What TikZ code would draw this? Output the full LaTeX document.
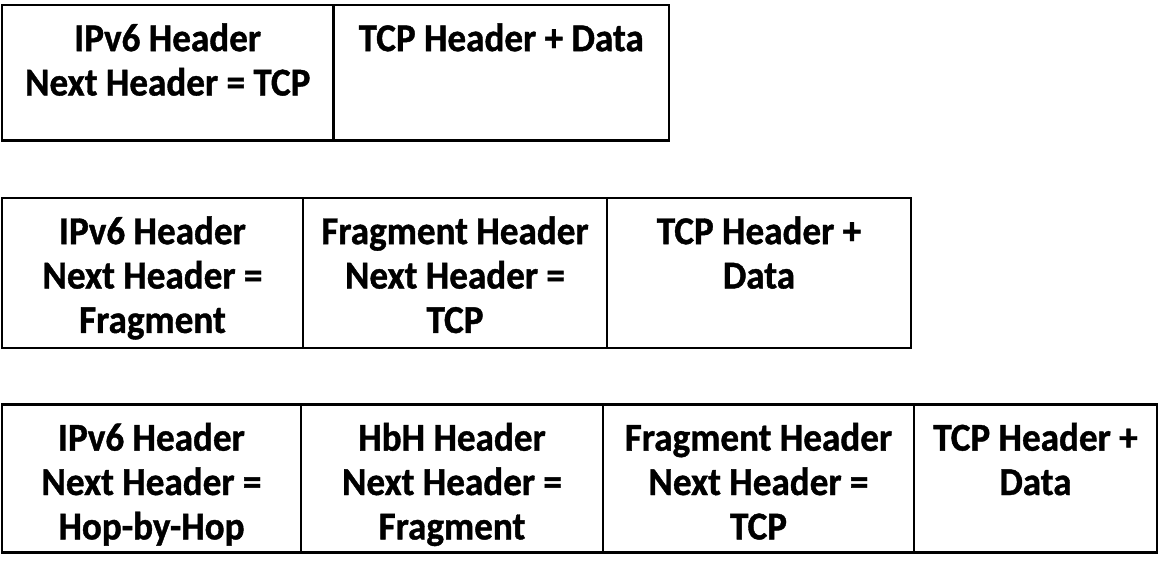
\documentclass[tikz,border=0pt]{standalone}
\usepackage{fontspec}
\setmainfont{Carlito}[FakeStretch=0.94, BoldFeatures={FakeBold=1}]

\begin{document}
\begin{tikzpicture}[x=0.5pt, y=-0.5pt,
    hdr/.style={draw, line width=1.35pt, inner sep=0pt, outer sep=0pt, anchor=north west},
    txt/.style={anchor=north, align=center, inner sep=0pt, yshift=-9pt,
        font=\fontsize{19.75}{22.2}\selectfont\bfseries}]
    \useasboundingbox (0,0) rectangle (1160,571);

    % plain packet
    \node[hdr, minimum width=165.75pt, minimum height=67.75pt] (ipA) at (2,5) {};
    \node[hdr, minimum width=167.75pt, minimum height=67.75pt] (tcpA) at (ipA.north east) {};

    \node[txt] (ipAt) at (ipA.north) {IPv6 Header\\Next Header = TCP};
    \node[txt] (tcpAt) at (tcpA.north) {TCP Header + Data};

    % with fragment header
    \node[hdr, minimum width=150.5pt, minimum height=75pt] (ipB) at (2,198) {};
    \node[hdr, minimum width=152pt, minimum height=75pt] (fragB) at (ipB.north east) {};
    \node[hdr, minimum width=152pt, minimum height=75pt] (tcpB) at (fragB.north east) {};

    \node[txt] (ipBt) at (ipB.north) {IPv6 Header\\Next Header =\\Fragment};
    \node[txt] (fragBt) at (fragB.north) {Fragment Header\\Next Header =\\TCP};
    \node[txt] (tcpBt) at (tcpB.north) {TCP Header +\\Data};

    % with hop-by-hop and fragment headers
    \node[hdr, minimum width=149.5pt, minimum height=74pt] (ipC) at (2,404.5) {};
    \node[hdr, minimum width=151pt, minimum height=74pt] (hbhC) at (ipC.north east) {};
    \node[hdr, minimum width=155.5pt, minimum height=74pt] (fragC) at (hbhC.north east) {};
    \node[hdr, minimum width=121.5pt, minimum height=74pt] (tcpC) at (fragC.north east) {};

    \node[txt] (ipCt) at (ipC.north) {IPv6 Header\\Next Header =\\Hop-by-Hop};
    \node[txt] (hbhCt) at (hbhC.north) {HbH Header\\Next Header =\\Fragment};
    \node[txt] (fragCt) at (fragC.north) {Fragment Header\\Next Header =\\TCP};
    \node[txt] (tcpCt) at (tcpC.north) {TCP Header +\\Data};

\end{tikzpicture}
\end{document}
